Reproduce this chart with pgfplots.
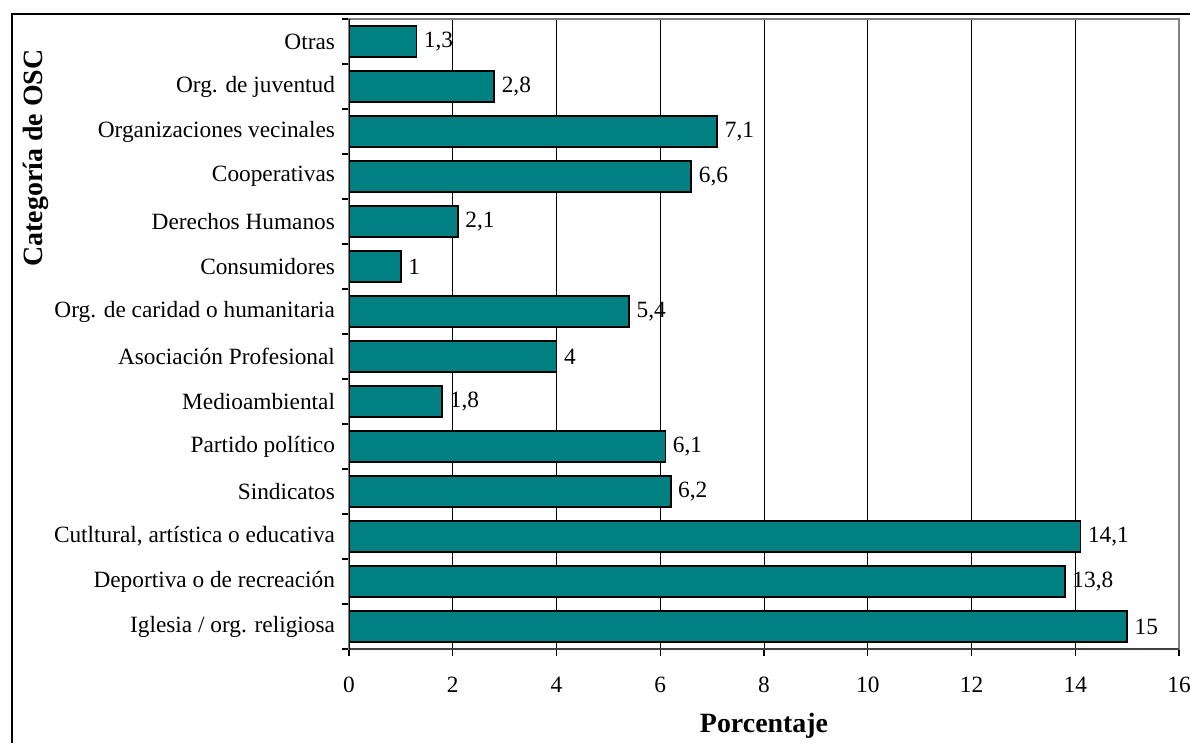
\documentclass[border=0pt]{standalone}
\usepackage{fontspec}
\setmainfont{Liberation Serif}
\usepackage{pgfplots}
\pgfplotsset{compat=1.18}
\definecolor{barteal}{RGB}{0,128,128}
\begin{document}
\begin{tikzpicture}[x=1bp,y=1bp]
\path[use as bounding box] (0,0) rectangle (595,371.5);
\draw[black, line width=0.6bp] (6,0) -- (6,364.5) -- (595,364.5);
\begin{axis}[
  at={(174.5bp,47bp)}, anchor=south west,
  scale only axis, width=415bp, height=315bp,
  xmin=0, xmax=16, ymin=-0.5, ymax=13.5,
  xtick={0,2,...,16},
  ytick={0,...,13},
  yticklabels={Iglesia / org. religiosa, Deportiva o de recreación, {Cutltural, artística o educativa}, Sindicatos, Partido político, Medioambiental, Asociación Profesional, Org. de caridad o humanitaria, Consumidores, Derechos Humanos, Cooperativas, Organizaciones vecinales, Org. de juventud, Otras},
  minor ytick={-0.5,0.5,...,13.5},
  major y tick style={draw=none},
  tick align=outside,
  tick pos=left,
  major tick length=3.5bp,
  minor tick length=3.5bp,
  tick style={black, line width=0.6bp},
  xmajorgrids,
  grid style={black, line width=0.5bp},
  axis line style={draw=gray, line width=1bp},
  ticklabel style={font=\fontsize{11.7}{13}\selectfont, black},
  xticklabel style={yshift=-7bp},
  /pgf/number format/.cd, use comma, fixed, precision=1, assume math mode=true,
  /pgfplots/.cd,
  xlabel={Porcentaje},
  xlabel style={font=\fontsize{14}{16}\selectfont\bfseries, at={(rel axis cs:0.5,0)}, anchor=base, yshift=-41.5bp},
  ylabel={Categoría de OSC},
  ylabel style={font=\fontsize{14}{16}\selectfont\bfseries, at={(rel axis cs:-0.3687,0.7794)}, anchor=base, rotate=0},
]
\addplot[xbar, fill=barteal, draw=black, line width=0.9bp, bar width=0.69,
  nodes near coords, nodes near coords align=horizontal,
  every node near coord/.append style={font=\fontsize{11.7}{13}\selectfont, black}]
  coordinates {(15,0) (13.8,1) (14.1,2) (6.2,3) (6.1,4) (1.8,5) (4,6) (5.4,7) (1,8) (2.1,9) (6.6,10) (7.1,11) (2.8,12) (1.3,13)};
\draw[black!75, line width=0.9bp] (rel axis cs:0,0) -- (rel axis cs:1,0);
\draw[black, line width=0.8bp] (rel axis cs:0,0) -- (rel axis cs:0,1);
\end{axis}
\end{tikzpicture}
\end{document}
